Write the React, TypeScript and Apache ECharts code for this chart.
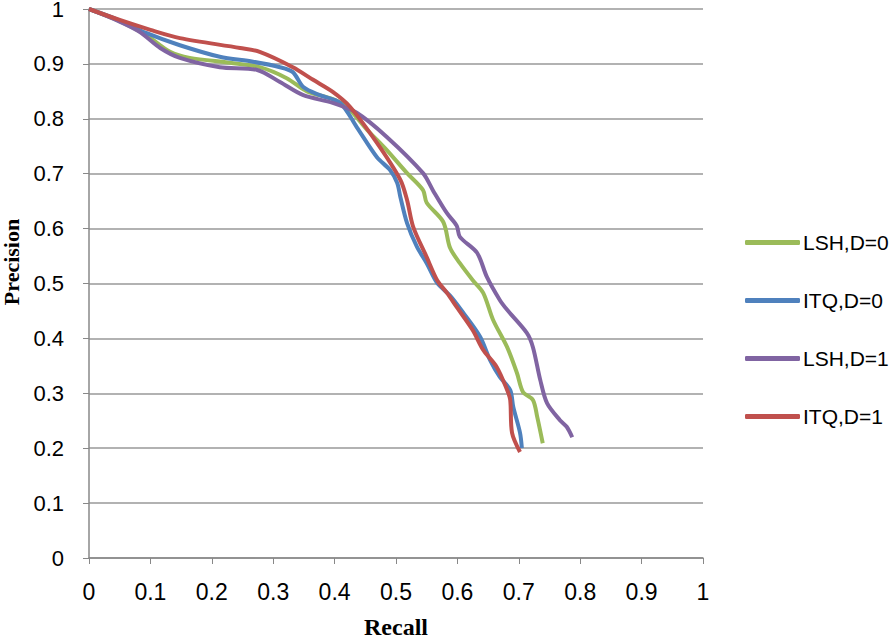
import React, { useEffect, useRef } from "react";
import * as echarts from "echarts";

const seriesNames = ["LSH,D=0", "ITQ,D=0", "LSH,D=1", "ITQ,D=1"];
const seriesColors = ["#9BBB59", "#4F81BD", "#8064A2", "#C0504D"];

const lshD0: [number, number][] = [
  [0, 1], [0.05, 0.978], [0.094, 0.952], [0.132, 0.922], [0.164, 0.911], [0.23, 0.902],
  [0.278, 0.894], [0.322, 0.874], [0.355, 0.85], [0.397, 0.836], [0.42, 0.822],
  [0.453, 0.78], [0.485, 0.743], [0.518, 0.701], [0.544, 0.67], [0.55, 0.647],
  [0.577, 0.612], [0.588, 0.565], [0.604, 0.537], [0.625, 0.506], [0.642, 0.483],
  [0.658, 0.434], [0.681, 0.384], [0.697, 0.337], [0.707, 0.302], [0.723, 0.288],
  [0.73, 0.257], [0.739, 0.209],
];
const itqD0: [number, number][] = [
  [0, 1], [0.05, 0.979], [0.094, 0.956], [0.148, 0.934], [0.213, 0.913], [0.267, 0.904],
  [0.311, 0.894], [0.332, 0.885], [0.349, 0.858], [0.376, 0.843], [0.409, 0.829],
  [0.436, 0.785], [0.469, 0.73], [0.49, 0.707], [0.502, 0.683], [0.507, 0.658],
  [0.518, 0.61], [0.534, 0.567], [0.55, 0.537], [0.567, 0.501], [0.588, 0.478],
  [0.61, 0.446], [0.637, 0.403], [0.653, 0.361], [0.669, 0.33], [0.686, 0.306],
  [0.691, 0.275], [0.702, 0.228], [0.705, 0.2],
];
const lshD1: [number, number][] = [
  [0, 1], [0.05, 0.977], [0.083, 0.958], [0.116, 0.929], [0.148, 0.911], [0.213, 0.894],
  [0.274, 0.889], [0.311, 0.867], [0.349, 0.843], [0.397, 0.829], [0.436, 0.811],
  [0.485, 0.767], [0.544, 0.701], [0.56, 0.67], [0.583, 0.628], [0.599, 0.605],
  [0.604, 0.585], [0.632, 0.556], [0.648, 0.512], [0.669, 0.47], [0.681, 0.452],
  [0.713, 0.41], [0.723, 0.384], [0.735, 0.324], [0.746, 0.282], [0.767, 0.251],
  [0.778, 0.239], [0.787, 0.22],
];
const itqD1: [number, number][] = [
  [0, 1], [0.05, 0.98], [0.1, 0.962], [0.148, 0.947], [0.246, 0.929], [0.278, 0.922],
  [0.332, 0.894], [0.365, 0.871], [0.397, 0.849], [0.425, 0.822], [0.469, 0.756],
  [0.507, 0.689], [0.518, 0.652], [0.528, 0.603], [0.55, 0.548], [0.567, 0.506],
  [0.583, 0.483], [0.599, 0.457], [0.625, 0.415], [0.642, 0.379], [0.664, 0.348],
  [0.681, 0.306], [0.686, 0.288], [0.689, 0.228], [0.702, 0.193],
];
const seriesData = [lshD0, itqD0, lshD1, itqD1];

const tickFont = "'Liberation Sans', Arial, sans-serif";
const titleFont = "'Liberation Serif', 'Times New Roman', serif";

export default function App() {
  const ref = useRef<HTMLDivElement>(null);
  useEffect(() => {
    if (!ref.current) return;
    const chart = echarts.init(ref.current, undefined, { renderer: "svg" });
    chart.setOption({
      animation: false,
      backgroundColor: "#ffffff",
      grid: { left: 89, right: 190, top: 9, bottom: 83, outerBoundsMode: "none", containLabel: false },
      legend: {
        orient: "vertical",
        left: 745,
        top: 232,
        padding: 0,
        itemGap: 37,
        itemWidth: 55,
        itemHeight: 5,
        icon: "roundRect",
        textStyle: { fontSize: 21, color: "#000", fontFamily: tickFont, padding: [0, 0, 0, -2] },
        data: seriesNames,
      },
      graphic: [
        {
          type: "text",
          x: 11,
          y: 262,
          rotation: Math.PI / 2,
          style: {
            text: "Precision",
            font: `bold 22px ${titleFont}`,
            fill: "#000",
            align: "center",
            verticalAlign: "middle",
            lineHeight: 20,
          },
        },
      ],
      xAxis: {
        type: "value",
        min: 0,
        max: 1,
        interval: 0.1,
        name: "Recall",
        nameLocation: "middle",
        nameGap: 59,
        nameTextStyle: { fontFamily: titleFont, fontWeight: "bold", fontSize: 24, color: "#000", lineHeight: 20 },
        axisLine: { show: true, lineStyle: { color: "#888", width: 1.5 } },
        axisTick: { show: true, inside: false, length: 6, lineStyle: { color: "#888" } },
        axisLabel: { fontSize: 23, color: "#000", fontFamily: tickFont, margin: 22, formatter: (v: number) => String(+v.toFixed(1)) },
        splitLine: { show: false },
      },
      yAxis: {
        type: "value",
        min: 0,
        max: 1,
        interval: 0.1,
        axisLine: { show: true, lineStyle: { color: "#888", width: 1.5 } },
        axisTick: { show: true, inside: false, length: 6, lineStyle: { color: "#888" } },
        axisLabel: { fontSize: 22, lineHeight: 16, color: "#000", fontFamily: tickFont, margin: 25, formatter: (v: number) => String(+v.toFixed(1)) },
        splitLine: { show: true, lineStyle: { color: "#999", width: 1.5 } },
      },
      series: seriesNames.map((name, i) => ({
        name,
        type: "line",
        data: seriesData[i],
        smooth: 0.3,
        showSymbol: false,
        symbol: "none",
        color: seriesColors[i],
        lineStyle: { width: 4, color: seriesColors[i] },
        z: 2 + (i === 3 ? 1 : 0),
      })),
    });
    return () => chart.dispose();
  }, []);
  return <div ref={ref} style={{ width: 893, height: 641, position: "absolute", left: 0, top: 0 }} />;
}
